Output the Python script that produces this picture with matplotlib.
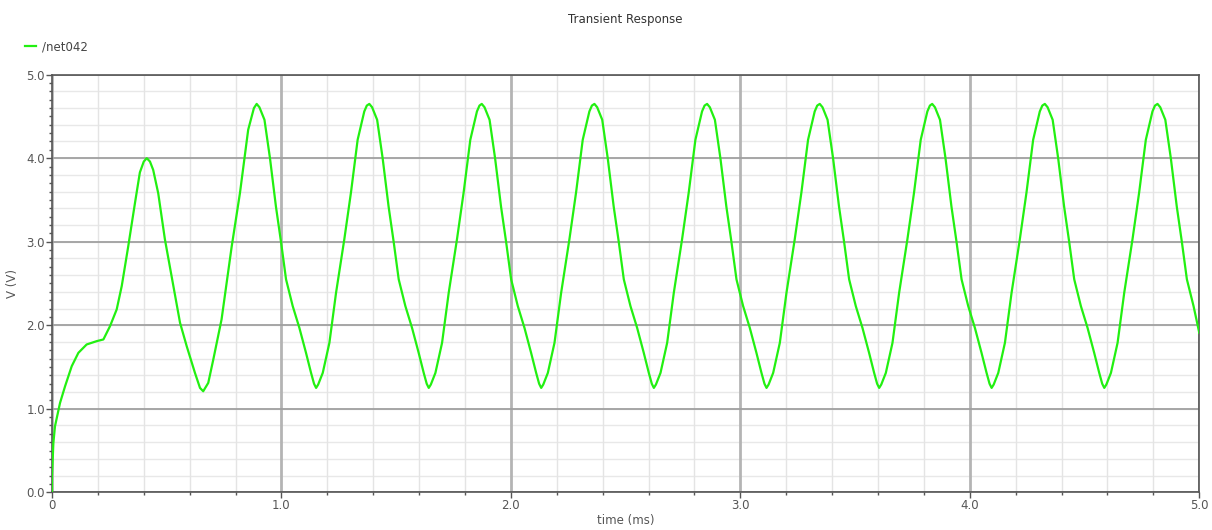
import matplotlib
matplotlib.use("Agg")
import matplotlib.pyplot as plt
from matplotlib.ticker import MultipleLocator, FixedFormatter, FixedLocator

# waveform: time in ms, voltage in V
t_start = [0.000, 0.000, 0.006, 0.013, 0.035, 0.057, 0.086, 0.115, 0.151, 0.195,
           0.224, 0.253, 0.282, 0.304, 0.332, 0.362, 0.383, 0.400, 0.413, 0.427,
           0.441, 0.463, 0.492, 0.529, 0.558, 0.587, 0.623, 0.645, 0.659, 0.681,
           0.703, 0.739, 0.783, 0.819, 0.855, 0.880]
v_start = [0.00, 0.20, 0.59, 0.79, 1.07, 1.27, 1.51, 1.67, 1.77, 1.81,
           1.83, 1.99, 2.19, 2.47, 2.94, 3.47, 3.83, 3.96, 4.00, 3.96,
           3.86, 3.58, 3.03, 2.47, 2.03, 1.75, 1.43, 1.25, 1.21, 1.31,
           1.59, 2.07, 2.94, 3.58, 4.34, 4.60]

t_osc = [
    0.892, 0.904, 0.926, 0.950, 0.976, 0.998, 1.020, 1.049, 1.078, 1.107, 1.129, 1.142, 1.151, 1.160, 1.180, 1.209, 1.238, 1.274, 1.303, 1.332, 1.361, 1.372,
    1.383, 1.395, 1.417, 1.441, 1.467, 1.489, 1.511, 1.540, 1.569, 1.598, 1.620, 1.633, 1.642, 1.651, 1.671, 1.700, 1.729, 1.765, 1.794, 1.823, 1.852, 1.863,
    1.873, 1.885, 1.907, 1.931, 1.957, 1.979, 2.001, 2.030, 2.059, 2.088, 2.110, 2.123, 2.132, 2.141, 2.161, 2.190, 2.219, 2.255, 2.284, 2.313, 2.342, 2.353,
    2.364, 2.376, 2.398, 2.422, 2.448, 2.470, 2.492, 2.521, 2.550, 2.579, 2.601, 2.614, 2.623, 2.632, 2.652, 2.681, 2.710, 2.746, 2.775, 2.804, 2.833, 2.844,
    2.855, 2.867, 2.889, 2.913, 2.939, 2.961, 2.983, 3.012, 3.041, 3.070, 3.092, 3.105, 3.114, 3.123, 3.143, 3.172, 3.201, 3.237, 3.266, 3.295, 3.324, 3.335,
    3.346, 3.358, 3.380, 3.404, 3.430, 3.452, 3.474, 3.503, 3.532, 3.561, 3.583, 3.596, 3.605, 3.614, 3.634, 3.663, 3.692, 3.728, 3.757, 3.786, 3.815, 3.826,
    3.836, 3.848, 3.870, 3.894, 3.920, 3.942, 3.964, 3.993, 4.022, 4.051, 4.073, 4.086, 4.095, 4.104, 4.124, 4.153, 4.182, 4.218, 4.247, 4.276, 4.305, 4.316,
    4.327, 4.339, 4.361, 4.385, 4.411, 4.433, 4.455, 4.484, 4.513, 4.542, 4.564, 4.577, 4.586, 4.595, 4.615, 4.644, 4.673, 4.709, 4.738, 4.767, 4.796, 4.807,
    4.818, 4.830, 4.852, 4.876, 4.902, 4.924, 4.946, 4.975, 5.000]
v_osc = [
    4.65, 4.61, 4.46, 4.00, 3.42, 3.00, 2.55, 2.23, 1.97, 1.67, 1.43, 1.30, 1.25, 1.29, 1.43, 1.79, 2.39, 3.03, 3.59, 4.22, 4.56, 4.63,
    4.65, 4.61, 4.46, 4.00, 3.42, 3.00, 2.55, 2.23, 1.97, 1.67, 1.43, 1.30, 1.25, 1.29, 1.43, 1.79, 2.39, 3.03, 3.59, 4.22, 4.56, 4.63,
    4.65, 4.61, 4.46, 4.00, 3.42, 3.00, 2.55, 2.23, 1.97, 1.67, 1.43, 1.30, 1.25, 1.29, 1.43, 1.79, 2.39, 3.03, 3.59, 4.22, 4.56, 4.63,
    4.65, 4.61, 4.46, 4.00, 3.42, 3.00, 2.55, 2.23, 1.97, 1.67, 1.43, 1.30, 1.25, 1.29, 1.43, 1.79, 2.39, 3.03, 3.59, 4.22, 4.56, 4.63,
    4.65, 4.61, 4.46, 4.00, 3.42, 3.00, 2.55, 2.23, 1.97, 1.67, 1.43, 1.30, 1.25, 1.29, 1.43, 1.79, 2.39, 3.03, 3.59, 4.22, 4.56, 4.63,
    4.65, 4.61, 4.46, 4.00, 3.42, 3.00, 2.55, 2.23, 1.97, 1.67, 1.43, 1.30, 1.25, 1.29, 1.43, 1.79, 2.39, 3.03, 3.59, 4.22, 4.56, 4.63,
    4.65, 4.61, 4.46, 4.00, 3.42, 3.00, 2.55, 2.23, 1.97, 1.67, 1.43, 1.30, 1.25, 1.29, 1.43, 1.79, 2.39, 3.03, 3.59, 4.22, 4.56, 4.63,
    4.65, 4.61, 4.46, 4.00, 3.42, 3.00, 2.55, 2.23, 1.97, 1.67, 1.43, 1.30, 1.25, 1.29, 1.43, 1.79, 2.39, 3.03, 3.59, 4.22, 4.56, 4.63,
    4.65, 4.61, 4.46, 4.00, 3.42, 3.00, 2.55, 2.23, 1.91]

x_ticks = [0, 1, 2, 3, 4, 5]
x_labels = ["0", "1.0", "2.0", "3.0", "4.0", "5.0"]
y_ticks = [0, 1, 2, 3, 4, 5]
y_labels = ["0.0", "1.0", "2.0", "3.0", "4.0", "5.0"]

t = t_start + t_osc
v = v_start + v_osc

fig = plt.figure(figsize=(12.12, 5.30), dpi=100)
ax = fig.add_axes([0.0429, 0.0711, 0.9466, 0.7880])

ax.plot(t, v, color="#22f011", lw=1.6, label="/net042", zorder=5)

ax.set_xlim(0, 5)
ax.set_ylim(0, 5)

ax.xaxis.set_major_locator(FixedLocator(x_ticks))
ax.xaxis.set_major_formatter(FixedFormatter(x_labels))
ax.yaxis.set_major_locator(FixedLocator(y_ticks))
ax.yaxis.set_major_formatter(FixedFormatter(y_labels))
ax.xaxis.set_minor_locator(MultipleLocator(0.2))
ax.yaxis.set_minor_locator(MultipleLocator(0.1))

# grids: light every 0.2, darker on the whole units
for yy in [i * 0.2 for i in range(1, 25)]:
    ax.axhline(yy, color="#e8e8e8", lw=1.0, zorder=1)
ax.grid(True, axis="x", which="minor", color="#e4e4e4", lw=1.0, zorder=1)
ax.grid(True, axis="x", which="major", color="#b4b4b4", lw=2.0, zorder=2)
ax.grid(True, axis="y", which="major", color="#a0a0a0", lw=1.3, zorder=2)

ax.tick_params(which="major", direction="out", length=4, width=1, color="#555555",
               labelcolor="#555555", labelsize=8.5, pad=1)
ax.tick_params(which="minor", direction="out", length=2.5, width=1, color="#555555")
for s in ax.spines.values():
    s.set_color("#555555")
    s.set_linewidth(1.2)

ax.set_xlabel("time (ms)", fontsize=8.5, color="#555555", labelpad=1)
ax.set_ylabel("V (V)", fontsize=8.5, color="#555555", labelpad=5)

fig.suptitle("Transient Response", x=0.516, y=0.975, fontsize=8.5, color="#333333")

ax.legend(loc="center left", bbox_to_anchor=(0.012, 0.912), bbox_transform=fig.transFigure,
          frameon=False, fontsize=8.5, handlelength=0.9, handletextpad=0.5,
          labelcolor="#444444")

fig.savefig("out.png", dpi=100)
